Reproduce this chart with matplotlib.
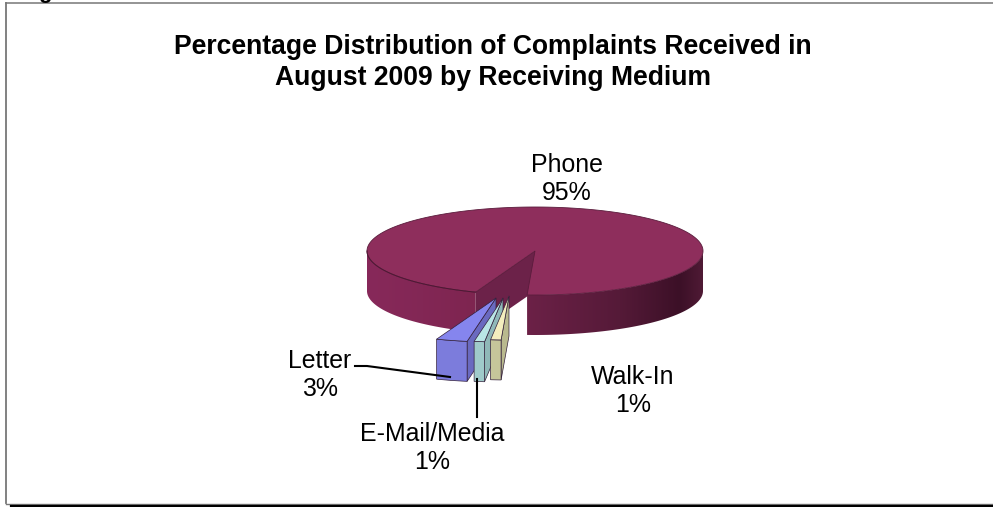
import matplotlib
matplotlib.use('Agg')
import matplotlib.pyplot as plt
from matplotlib.colors import to_rgb
from matplotlib.patches import Polygon
import numpy as np

# complaint shares, in drawing order going round from the start angle
mediums = ['Walk-In', 'E-Mail/Media', 'Letter', 'Phone']
shares = [1, 1, 3, 95]

top_colors = ['#F4EEBE', '#B9E6E6', '#8585EE', '#8E2E5C']
front_colors = ['#C6C69A', '#9FCACA', '#7C7CDC']
side_colors = ['#B9B98E', '#8FB8B8', '#6A6AC0']

# pixel offset of each pulled-out slice
pull_x = [-26, -32, -39]
pull_y = [45, 47, 47]

label_x = [633, 432, 320, 567]
label_y = [391, 448, 375, 179]

CX, CY = 535, 251
RX, RY = 168, 44
DEPTH = 40
START = 92.7
EDGE = '#33203a'


def rim(t0, t1, dx=0, dy=0, n=80):
    t = np.radians(np.linspace(t0, t1, n))
    return np.column_stack([CX + dx + RX * np.cos(t), CY + dy + RY * np.sin(t)])


def wall_gradient(ax, a, b, stops):
    # horizontal colour ramp clipped to the outer wall between two angles
    arc = rim(a, b, n=120)
    wall = np.vstack([arc, arc[::-1] + [0, DEPTH]])
    x0, x1 = wall[:, 0].min(), wall[:, 0].max()
    y0, y1 = wall[:, 1].min(), wall[:, 1].max()
    xs, cols = zip(*stops)
    rgb = np.array([to_rgb(c) for c in cols])
    grid = np.linspace(x0, x1, 256)
    ramp = np.stack([np.interp(grid, xs, rgb[:, i]) for i in range(3)], axis=1)[None, :, :]
    im = ax.imshow(ramp, extent=(x0, x1, y1, y0), aspect='auto', zorder=2, interpolation='bilinear')
    clip = Polygon(wall, closed=True, transform=ax.transData, fc='none', ec='none')
    ax.add_patch(clip)
    im.set_clip_path(clip)


def draw_phone(ax, t0, t1):
    wall_gradient(ax, t0, 180, [(367, '#87295A'), (478, '#7E2550')])
    wall_gradient(ax, 0, t1 - 360, [(527, '#6C2147'), (620, '#551A38'), (680, '#3C1027'), (703, '#4F1A35')])
    # cut face behind the pulled-out slices
    cut = rim(t0, t0, n=1)[0]
    face = [cut, (CX, CY), (CX, CY + DEPTH), cut + [0, DEPTH]]
    ax.fill(*zip(*face), color='#6C2249', lw=0, zorder=3)
    end = rim(t1, t1, n=1)[0]
    wedge = [cut, (CX, CY), end]
    ax.fill(*zip(*wedge), color='#6C2249', lw=0, zorder=3)
    top = np.vstack([[CX, CY], rim(t0, t1, n=300)])
    ax.fill(top[:, 0], top[:, 1], color=top_colors[3], ec='#5A1C3C', lw=0.6, zorder=4)
    wall_line = rim(t0, 180)
    ax.plot(wall_line[:, 0], wall_line[:, 1], color='#4E1834', lw=0.7, zorder=5)


def draw_slice(ax, t0, t1, i):
    dx, dy = pull_x[i], pull_y[i]
    z = 8 - i
    apex = np.array([CX + dx, CY + dy])
    arc = rim(t0, t1, dx, dy, n=12)
    side = [arc[0], apex, apex + [0, DEPTH], arc[0] + [0, DEPTH]]
    ax.fill(*zip(*side), fc=side_colors[i], ec=EDGE, lw=0.5, zorder=z)
    front = np.vstack([arc, arc[::-1] + [0, DEPTH]])
    ax.fill(front[:, 0], front[:, 1], fc=front_colors[i], ec=EDGE, lw=0.5, zorder=z)
    top = np.vstack([apex, arc])
    ax.fill(top[:, 0], top[:, 1], fc=top_colors[i], ec=EDGE, lw=0.5, zorder=z)


plt.rcParams['font.family'] = ['Liberation Sans', 'DejaVu Sans']
fig = plt.figure(figsize=(9.93, 5.07), dpi=100)
ax = fig.add_axes([0, 0, 1, 1])

# angles come straight from the percentages
angles = START + np.cumsum([0] + shares) * 3.6
draw_phone(ax, angles[3], angles[4])
for i in range(3):
    draw_slice(ax, angles[i], angles[i + 1], i)

ax.set_xlim(0, 993)
ax.set_ylim(507, 0)
ax.axis('off')

# frame with its heavy lower edge
ax.plot([6, 6], [3, 503], color='#777777', lw=1.3, zorder=1)
ax.plot([6, 993], [3, 3], color='#777777', lw=1.1, zorder=1)
ax.plot([6, 993], [504, 504], color='#777777', lw=1.0, zorder=1)
ax.plot([11, 993], [506, 506], color='black', lw=1.6, zorder=1)
ax.text(45, -2, 'g', fontsize=16, fontweight='bold', ha='center', va='baseline', clip_on=True)

ax.text(493, 62.5, 'Percentage Distribution of Complaints Received in\nAugust 2009 by Receiving Medium',
        fontsize=19.1, fontweight='bold', ha='center', va='center', linespacing=1.27)

for name, share, x, y in zip(mediums, shares, label_x, label_y):
    ax.text(x, y, f'{name}\n{share}%', fontsize=17.9, ha='center', va='center', linespacing=1.2, zorder=12)

# leader lines
ax.plot([355, 367, 450], [366, 366, 377], color='black', lw=1.5, zorder=11)
ax.plot([477, 477], [379, 417], color='black', lw=1.5, zorder=11)

fig.savefig('out.png', dpi=100)
